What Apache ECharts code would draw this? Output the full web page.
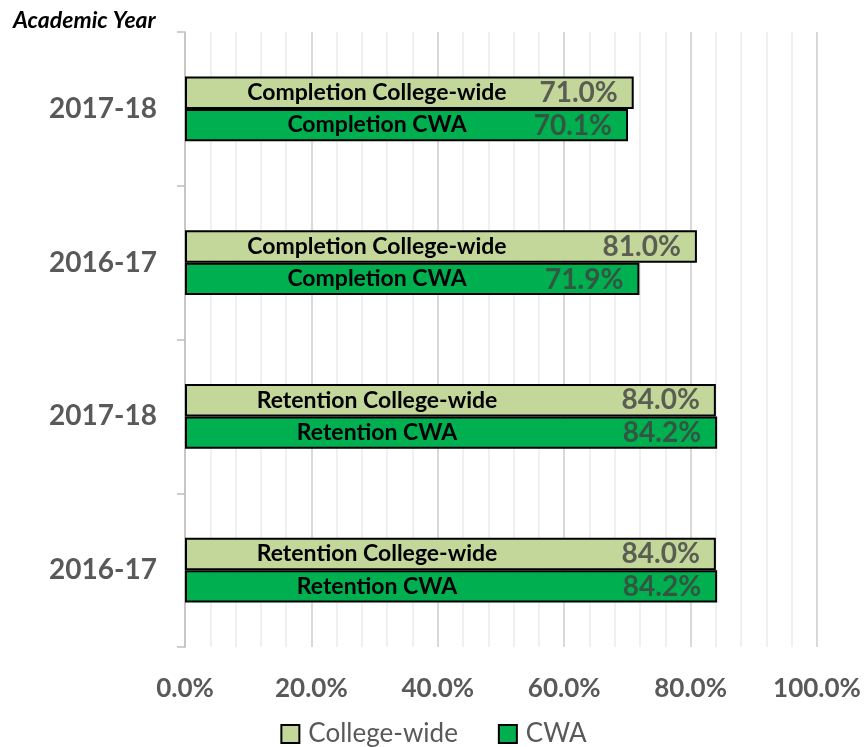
<!DOCTYPE html>
<html><head><meta charset="utf-8">
<script src="https://cdn.jsdelivr.net/npm/echarts@6/dist/echarts.min.js"></script>
<style>html,body{margin:0;padding:0;background:#fff}#c{width:867px;height:747px}</style>
</head><body><div id="c"></div>
<script>
// Categories bottom to top
var yearLabels = ['2016-17', '2017-18', '2016-17', '2017-18'];
var measures = ['Retention', 'Retention', 'Completion', 'Completion'];
var seriesNames = ['College-wide', 'CWA'];
var collegeWide = [84.0, 84.0, 81.0, 71.0];
var cwa = [84.2, 84.2, 71.9, 70.1];
var xTicks = [0, 20, 40, 60, 80, 100];

var FONT = 'Lato, "Open Sans", sans-serif';
var catIds = yearLabels.map(function (y, i) { return i; });
var colors = ['#c4d79b', '#00b050'];
var datasets = [collegeWide, cwa];

var series = [];
seriesNames.forEach(function (name, s) {
  series.push({
    name: name,
    type: 'bar',
    data: datasets[s],
    barGap: '0%',
    barCategoryGap: '58%',
    itemStyle: { color: colors[s], borderColor: '#000', borderWidth: 2 },
    label: {
      show: true,
      position: [192, '50%'],
      align: 'center',
      verticalAlign: 'middle',
      fontFamily: FONT,
      fontWeight: 'bold',
      fontSize: 23,
      color: '#000',
      formatter: function (p) { return measures[p.dataIndex] + ' ' + name; }
    },
    z: 2
  });
});
// value labels drawn at bar ends
seriesNames.forEach(function (name, s) {
  series.push({
    name: name + ' value',
    type: 'scatter',
    data: datasets[s].map(function (v, i) { return [v, i]; }),
    symbolSize: 0,
    silent: true,
    z: 5,
    label: {
      show: true,
      position: 'left',
      distance: 16,
      offset: [0, s === 0 ? -16 : 17],
      fontFamily: FONT,
      fontWeight: 'bold',
      fontSize: 28,
      color: '#404040',
      formatter: function (p) { return p.value[0].toFixed(1) + '%'; }
    }
  });
});

var chart = echarts.init(document.getElementById('c'));
chart.setOption({
  animation: false,
  backgroundColor: '#fff',
  title: {
    text: 'Academic Year', left: 8, top: 4,
    textStyle: { fontFamily: FONT, fontWeight: 'bold', fontStyle: 'italic', fontSize: 23, color: '#000' }
  },
  legend: {
    data: seriesNames.map(function (n, i) {
      return { name: n, itemStyle: { color: colors[i], borderColor: '#000', borderWidth: 2 } };
    }),
    top: 721,
    left: 'center',
    icon: 'rect',
    itemWidth: 18,
    itemHeight: 18,
    itemGap: 40,
    padding: 0,
    textStyle: { fontFamily: FONT, fontSize: 26, color: '#595959', padding: [0, 0, 0, 4] }
  },
  grid: { left: 185, right: 50, top: 32, bottom: 100 },
  xAxis: {
    type: 'value', min: 0, max: 100, interval: 20,
    axisLine: { show: false },
    axisTick: { show: false },
    axisLabel: {
      margin: 29, fontFamily: FONT, fontWeight: 'bold', fontSize: 26, color: '#595959',
      formatter: function (v) { return v.toFixed(1) + '%'; }
    },
    splitLine: { show: true, lineStyle: { color: '#d9d9d9', width: 2 } },
    minorTick: { show: false, splitNumber: 5 },
    minorSplitLine: { show: true, lineStyle: { color: '#ececec', width: 1.5 } }
  },
  yAxis: {
    type: 'category',
    data: catIds,
    axisLine: { show: true, lineStyle: { color: '#bfbfbf', width: 1.5 } },
    axisTick: { show: true, length: 8, lineStyle: { color: '#bfbfbf', width: 1.5 } },
    axisLabel: {
      margin: 28, fontFamily: FONT, fontWeight: 'bold', fontSize: 28, color: '#595959',
      formatter: function (v, i) { return yearLabels[i]; }
    }
  },
  series: series
});
</script></body></html>
